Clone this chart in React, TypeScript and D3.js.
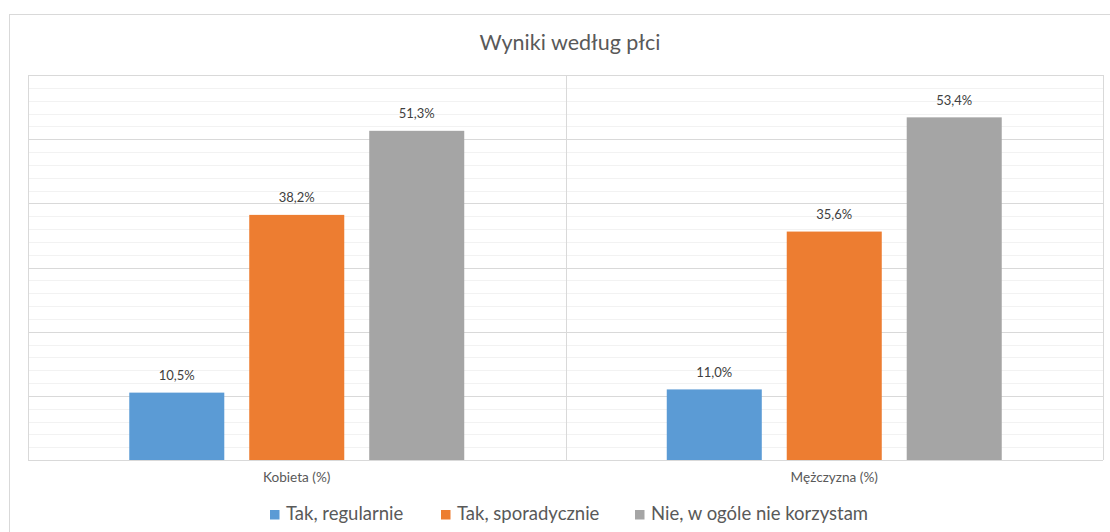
import React from 'react';
import * as d3 from 'd3';

const CATEGORIES = ['Kobieta (%)', 'Mężczyzna (%)'];
const SERIES = ['Tak, regularnie', 'Tak, sporadycznie', 'Nie, w ogóle nie korzystam'];
const COLORS = ['#5B9BD5', '#ED7D31', '#A5A5A5'];
const REGULARNIE = [10.5, 11.0];
const SPORADYCZNIE = [38.2, 35.6];
const NIE = [51.3, 53.4];
const VALUES = [REGULARNIE, SPORADYCZNIE, NIE];
const TITLE = 'Wyniki według płci';

const W = 1110;
const H = 532;
const FONT = 'Lato, "Open Sans", sans-serif';

const fmt = (v: number) => v.toFixed(1).replace('.', ',') + '%';

export default function App() {
  const left = 28;
  const right = 1103;
  const top = 75;
  const bottom = 460;

  const y = d3.scaleLinear().domain([0, 60]).range([bottom, top]);
  const x0 = d3.scaleBand<string>().domain(CATEGORIES).range([left, right]).padding(0);
  const x1 = d3
    .scaleBand<string>()
    .domain(SERIES)
    .range([0, x0.bandwidth()])
    .paddingInner(0.208)
    .paddingOuter(0.844);

  const majors = d3.range(0, 61, 10);
  const minors = d3.range(0, 61, 2).filter(v => v % 10 !== 0);

  // legend layout
  const legendX = [270, 441, 635];

  return (
    <svg
      width={W}
      height={H}
      style={{ position: 'absolute', left: 0, top: 0, background: '#fff' }}
    >
      <rect x={9.5} y={14.5} width={W + 10} height={H + 10} fill="#fff" stroke="#D9D9D9" />

      <text
        x={570}
        y={50}
        textAnchor="middle"
        fontFamily={FONT}
        fontSize={21.5}
        fill="#595959"
      >
        {TITLE}
      </text>

      {/* minor gridlines */}
      {minors.map(v => (
        <line key={'mi' + v} x1={left} x2={right} y1={Math.round(y(v)) + 0.5} y2={Math.round(y(v)) + 0.5} stroke="#F2F2F2" />
      ))}
      {/* major gridlines */}
      {majors.map(v => (
        <line key={'ma' + v} x1={left} x2={right} y1={Math.round(y(v)) + 0.5} y2={Math.round(y(v)) + 0.5} stroke="#D9D9D9" />
      ))}
      {/* vertical category lines */}
      {[left, x0(CATEGORIES[1])!, right].map((xv, i) => (
        <line key={'v' + i} x1={Math.round(xv) + 0.5} x2={Math.round(xv) + 0.5} y1={top} y2={bottom} stroke="#D9D9D9" />
      ))}

      {CATEGORIES.map((c, ci) => (
        <g key={c} transform={`translate(${x0(c)},0)`}>
          {SERIES.map((s, si) => {
            const v = VALUES[si][ci];
            const bx = x1(s)!;
            return (
              <g key={s}>
                <rect x={bx} y={y(v)} width={x1.bandwidth()} height={bottom - y(v)} fill={COLORS[si]} />
                <text
                  x={bx + x1.bandwidth() / 2}
                  y={y(v) - 12.5}
                  textAnchor="middle"
                  fontFamily={FONT}
                  fontSize={13}
                  fill="#404040"
                >
                  {fmt(v)}
                </text>
              </g>
            );
          })}
          <text
            x={x0.bandwidth() / 2}
            y={482}
            textAnchor="middle"
            fontFamily={FONT}
            fontSize={13.6}
            fill="#595959"
          >
            {c}
          </text>
        </g>
      ))}

      {SERIES.map((s, i) => (
        <g key={s} transform={`translate(${legendX[i]},0)`}>
          <rect x={0} y={510} width={9.5} height={9.5} fill={COLORS[i]} />
          <text x={16} y={520} fontFamily={FONT} fontSize={18.5} fill="#595959">
            {s}
          </text>
        </g>
      ))}
    </svg>
  );
}
